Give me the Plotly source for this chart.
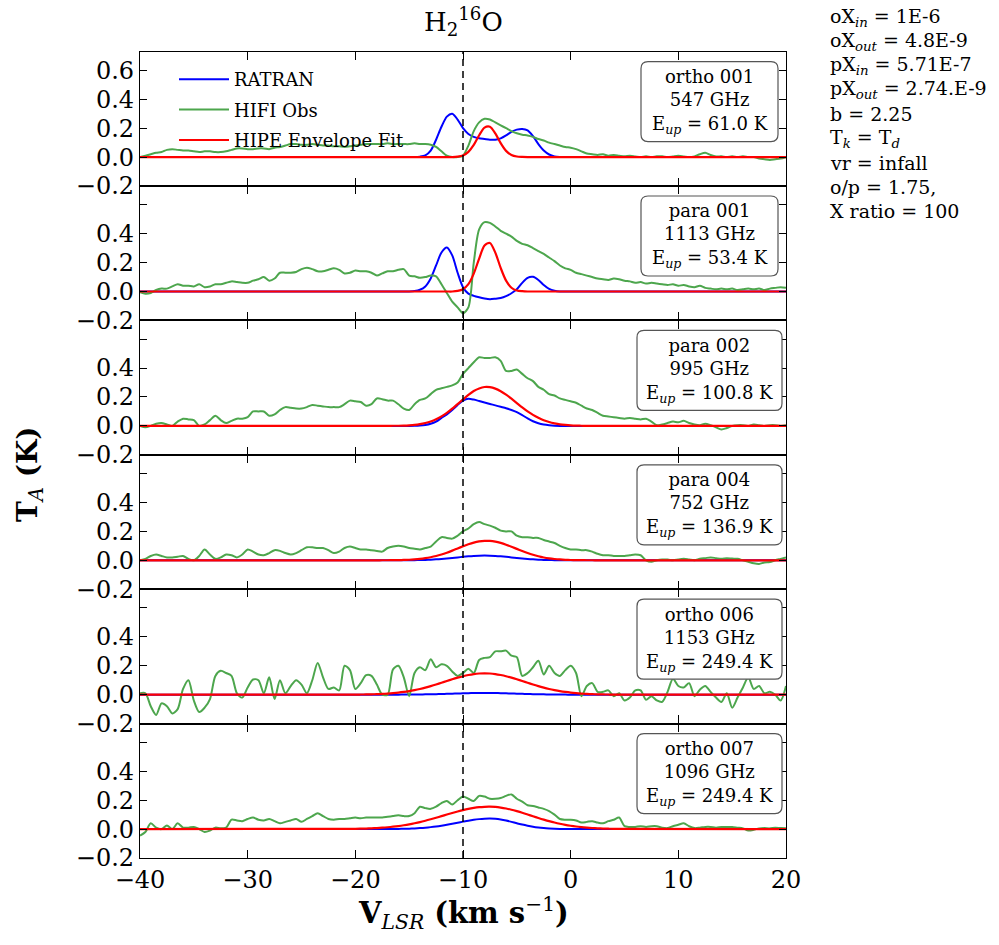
import numpy as np
import plotly.graph_objects as go

# ---------------------------------------------------------------- data
# velocity channels (km/s)
VEL_OBS = np.round(np.arange(-40.0, 20.001, 0.5), 2)                      # 121 channels
VEL_MODEL = np.concatenate([[-40.0], np.round(np.arange(-20.0, 4.001, 0.5), 2), [20.0]])  # 51 points

LINE_NAMES = ["ortho 001", "para 001", "para 002", "para 004", "ortho 006", "ortho 007"]
LINE_FREQS = ["547 GHz", "1113 GHz", "995 GHz", "752 GHz", "1153 GHz", "1096 GHz"]
LINE_EUP = ["61.0", "53.4", "100.8", "136.9", "249.4", "249.4"]

# HIFI observed spectra, T_A (K)
HIFI_O001 = [
    0.00, 0.01, 0.02, 0.03, 0.035, 0.05, 0.055, 0.05, 0.045, 0.045,
    0.04, 0.035, 0.04, 0.04, 0.035, 0.035, 0.04, 0.05, 0.06, 0.06,
    0.055, 0.055, 0.06, 0.06, 0.055, 0.065, 0.07, 0.08, 0.09, 0.09,
    0.085, 0.085, 0.09, 0.085, 0.08, 0.08, 0.075, 0.075, 0.07, 0.075,
    0.08, 0.085, 0.09, 0.09, 0.09, 0.09, 0.095, 0.09, 0.09, 0.09,
    0.09, 0.095, 0.09, 0.09, 0.085, 0.07, 0.04, 0.01, 0.0, 0.0,
    0.01, 0.08, 0.18, 0.24, 0.265, 0.26, 0.24, 0.22, 0.2, 0.18,
    0.165, 0.155, 0.15, 0.14, 0.125, 0.115, 0.1, 0.09, 0.08, 0.07,
    0.065, 0.055, 0.04, 0.025, 0.02, 0.015, 0.02, 0.01, 0.015, 0.01,
    0.005, 0.01, 0.005, 0.0, 0.005, 0.0, 0.005, 0.005, 0.0, 0.005,
    0.01, 0.005, 0.0, 0.005, 0.02, 0.03, 0.015, 0.005, 0.005, 0.0,
    0.005, 0.0, 0.005, 0.0, 0.0, -0.01, -0.015, -0.02, -0.015, -0.01,
    0.0]
HIFI_P001 = [
    -0.005, -0.015, -0.01, 0.01, 0.02, 0.02, 0.035, 0.05, 0.04, 0.04,
    0.035, 0.05, 0.03, 0.035, 0.05, 0.05, 0.06, 0.07, 0.065, 0.06,
    0.06, 0.075, 0.085, 0.1, 0.075, 0.09, 0.13, 0.13, 0.13, 0.135,
    0.155, 0.165, 0.155, 0.14, 0.14, 0.15, 0.16, 0.15, 0.125, 0.13,
    0.145, 0.14, 0.14, 0.13, 0.11, 0.125, 0.14, 0.14, 0.15, 0.155,
    0.11, 0.105, 0.095, 0.1, 0.11, 0.105, 0.05, -0.01, -0.07, -0.11,
    -0.15, -0.11, 0.2, 0.43, 0.48, 0.475, 0.45, 0.42, 0.4, 0.38,
    0.35, 0.33, 0.32, 0.3, 0.28, 0.26, 0.235, 0.21, 0.18, 0.16,
    0.15, 0.13, 0.12, 0.11, 0.1, 0.09, 0.085, 0.08, 0.09, 0.085,
    0.075, 0.07, 0.06, 0.065, 0.055, 0.06, 0.055, 0.05, 0.045, 0.05,
    0.04, 0.045, 0.035, 0.03, 0.04, 0.025, 0.02, 0.015, 0.02, 0.015,
    0.02, 0.01, 0.015, 0.02, 0.015, 0.02, 0.01, 0.02, 0.025, 0.03,
    0.025]
HIFI_P002 = [
    0.0, -0.01, 0.0, 0.015, 0.02, 0.01, 0.0, 0.03, 0.05, 0.045,
    0.04, 0.0, 0.01, 0.04, 0.07, 0.04, 0.02, 0.035, 0.05, 0.05,
    0.06, 0.1, 0.1, 0.1, 0.07, 0.08, 0.11, 0.13, 0.125, 0.12,
    0.12, 0.13, 0.145, 0.14, 0.135, 0.13, 0.13, 0.13, 0.15, 0.175,
    0.17, 0.165, 0.14, 0.15, 0.19, 0.185, 0.175, 0.175, 0.15, 0.12,
    0.11, 0.15, 0.18, 0.19, 0.22, 0.25, 0.26, 0.27, 0.28, 0.3,
    0.36, 0.4, 0.44, 0.475, 0.47, 0.47, 0.475, 0.45, 0.38, 0.38,
    0.39, 0.36, 0.33, 0.31, 0.27, 0.25, 0.22, 0.21, 0.19, 0.18,
    0.17, 0.16, 0.14, 0.12, 0.11, 0.09, 0.07, 0.065, 0.06, 0.055,
    0.05, 0.055, 0.05, 0.045, 0.05, 0.03, 0.005, 0.01, 0.02, 0.03,
    0.025, 0.035, 0.02, 0.01, 0.005, 0.015, 0.005, -0.01, -0.025, -0.015,
    0.0, 0.005, 0.005, 0.0, 0.01, 0.005, 0.0, 0.005, 0.005, 0.0,
    0.005]
HIFI_P004 = [
    0.0, 0.01, 0.03, 0.04, 0.03, 0.02, 0.02, 0.025, 0.03, 0.01,
    0.0, 0.03, 0.075, 0.04, 0.01, 0.02, 0.04, 0.035, 0.02, 0.04,
    0.075, 0.06, 0.04, 0.035, 0.05, 0.07, 0.065, 0.05, 0.04, 0.05,
    0.07, 0.09, 0.09, 0.085, 0.085, 0.07, 0.05, 0.06, 0.085, 0.095,
    0.085, 0.075, 0.075, 0.07, 0.065, 0.06, 0.085, 0.095, 0.1, 0.095,
    0.085, 0.08, 0.075, 0.085, 0.095, 0.13, 0.16, 0.155, 0.15, 0.17,
    0.2, 0.22, 0.25, 0.265, 0.25, 0.24, 0.225, 0.205, 0.2, 0.2,
    0.17, 0.16, 0.16, 0.155, 0.155, 0.14, 0.13, 0.12, 0.1, 0.085,
    0.075, 0.075, 0.07, 0.07, 0.06, 0.045, 0.035, 0.035, 0.03, 0.03,
    0.03, 0.035, 0.04, 0.035, 0.0, -0.01, 0.0, 0.005, 0.005, 0.0,
    0.005, 0.01, 0.005, 0.0, 0.01, 0.015, 0.02, 0.015, 0.01, 0.015,
    0.012, 0.01, 0.0, -0.01, -0.02, -0.025, -0.015, -0.012, 0.0, 0.01,
    0.02]
HIFI_O006 = [
    0.01, 0.01, -0.08, -0.14, -0.06, -0.08, -0.13, -0.1, 0.04, 0.1,
    -0.04, -0.12, -0.09, -0.03, 0.13, 0.165, 0.15, 0.13, 0.01, -0.02,
    0.05, 0.105, 0.1, 0.01, 0.12, -0.03, 0.1, 0.01, 0.06, 0.1,
    0.07, 0.01, 0.1, 0.22, 0.12, 0.04, 0.05, 0.03, 0.2, 0.17,
    0.04, 0.08, 0.135, 0.13, 0.07, 0.0, 0.0, 0.175, 0.2, 0.12,
    -0.01, 0.15, 0.19, 0.17, 0.245, 0.19, 0.21, 0.2, 0.16, 0.13,
    0.15, 0.18, 0.15, 0.24, 0.255, 0.26, 0.3, 0.3, 0.305, 0.27,
    0.26, 0.13, 0.15, 0.19, 0.235, 0.14, 0.2, 0.15, 0.13, 0.17,
    0.2, 0.15, -0.01, 0.06, 0.08, 0.02, 0.02, 0.03, -0.01, 0.01,
    -0.04, -0.02, 0.03, 0.03, -0.035, -0.01, -0.04, -0.05, 0.02, 0.11,
    0.06, 0.05, 0.08, -0.01, 0.035, 0.06, 0.02, -0.02, -0.05, 0.01,
    -0.09, -0.02, 0.05, 0.12, 0.04, 0.06, 0.01, 0.02, 0.0, -0.04,
    0.06]
HIFI_O007 = [
    -0.045, -0.02, 0.04, 0.01, 0.0, 0.025, 0.0, 0.04, 0.01, 0.01,
    0.015, 0.0, -0.02, -0.01, 0.01, 0.005, 0.01, 0.065, 0.06, 0.055,
    0.07, 0.08, 0.065, 0.06, 0.07, 0.055, 0.04, 0.05, 0.06, 0.07,
    0.05, 0.07, 0.09, 0.11, 0.09, 0.07, 0.065, 0.07, 0.07, 0.075,
    0.08, 0.075, 0.08, 0.08, 0.08, 0.08, 0.085, 0.09, 0.095, 0.09,
    0.09, 0.11, 0.155, 0.145, 0.14, 0.155, 0.18, 0.195, 0.17, 0.2,
    0.225, 0.21, 0.195, 0.23, 0.225, 0.21, 0.21, 0.215, 0.23, 0.24,
    0.21, 0.19, 0.165, 0.16, 0.15, 0.14, 0.125, 0.1, 0.07, 0.065,
    0.065, 0.06, 0.045, 0.05, 0.055, 0.045, 0.04, 0.055, 0.065, 0.08,
    0.02, 0.015, 0.015, 0.02, 0.015, 0.02, 0.02, 0.01, 0.007, 0.02,
    0.03, 0.04, 0.02, 0.007, 0.01, 0.015, 0.015, 0.01, 0.015, 0.015,
    0.015, 0.01, 0.005, -0.01, -0.005, 0.005, 0.007, 0.005, 0.01, 0.007,
    0.005]

# RATRAN model spectra, T_A (K), on VEL_MODEL
RATRAN_O001 = [0.0,
    0, 0, 0, 0, 0, 0, 0, 0, 0, 0,
    0, 0.0, 0.003, 0.012, 0.045, 0.12, 0.21, 0.28, 0.30, 0.26,
    0.2, 0.16, 0.14, 0.13, 0.125, 0.12, 0.12, 0.13, 0.15, 0.175,
    0.19, 0.195, 0.185, 0.145, 0.09, 0.045, 0.018, 0.005, 0.001, 0,
    0, 0, 0, 0, 0, 0, 0, 0, 0,
    0.0]
RATRAN_P001 = [0.0,
    0, 0, 0, 0, 0, 0, 0, 0, 0, 0,
    0, 0.003, 0.012, 0.035, 0.09, 0.18, 0.27, 0.305, 0.25, 0.13,
    0.03, -0.015, -0.03, -0.04, -0.048, -0.053, -0.05, -0.045, -0.032, -0.012,
    0.015, 0.06, 0.095, 0.102, 0.08, 0.045, 0.018, 0.005, 0, 0,
    0, 0, 0, 0, 0, 0, 0, 0, 0,
    0.0]
RATRAN_P002 = [0.0,
    0, 0, 0, 0, 0, 0, 0, 0, 0, 0,
    0, 0.001, 0.003, 0.007, 0.015, 0.03, 0.055, 0.08, 0.11, 0.145,
    0.175, 0.188, 0.182, 0.172, 0.162, 0.152, 0.142, 0.132, 0.122, 0.11,
    0.095, 0.075, 0.052, 0.032, 0.018, 0.009, 0.004, 0.001, 0, 0,
    0, 0, 0, 0, 0, 0, 0, 0, 0,
    0.0]
RATRAN_P004 = [0.0,
    0, 0, 0, 0, 0, 0, 0, 0, 0, 0,
    0.0006, 0.001, 0.0019, 0.0029, 0.0045, 0.0065, 0.0092, 0.0124, 0.016, 0.020,
    0.024, 0.0276, 0.0305, 0.0323, 0.033, 0.0323, 0.0305, 0.0276, 0.024, 0.020,
    0.016, 0.0124, 0.0092, 0.0065, 0.0045, 0.0029, 0.0019, 0.001, 0.0006, 0.0,
    0, 0, 0, 0, 0, 0, 0, 0, 0,
    0.0]
RATRAN_O006 = [0.0,
    0, 0, 0, 0, 0, 0, 0.0001, 0.0002, 0.0004, 0.0006,
    0.0008, 0.0012, 0.0016, 0.0023, 0.003, 0.0039, 0.0049, 0.0061, 0.0073, 0.0085,
    0.0096, 0.0106, 0.0113, 0.0118, 0.012, 0.0118, 0.0113, 0.0106, 0.0096, 0.0085,
    0.0073, 0.0061, 0.0049, 0.0039, 0.003, 0.0023, 0.0016, 0.0012, 0.0008, 0.0006,
    0.0004, 0.0002, 0.0001, 0, 0, 0, 0, 0, 0,
    0.0]
RATRAN_O007 = [0.0,
    0, 0, 0, 0, 0, 0, 0.0005, 0.0008, 0.0013, 0.0021,
    0.0032, 0.0048, 0.0070, 0.0099, 0.0136, 0.0182, 0.0237, 0.030, 0.037, 0.0443,
    0.0516, 0.0585, 0.0644, 0.069, 0.072, 0.073, 0.0713, 0.0664, 0.059, 0.05,
    0.0405, 0.0312, 0.023, 0.0161, 0.0108, 0.0069, 0.0042, 0.0024, 0.0013, 0.0007,
    0.0004, 0, 0, 0, 0, 0, 0, 0, 0,
    0.0]

# HIPE envelope fits, T_A (K), on VEL_MODEL
HIPE_O001 = [0.0,
    0, 0, 0, 0, 0, 0, 0, 0, 0, 0,
    0, 0, 0, 0, 0, 0, 0, 0, 0, 0.003,
    0.011, 0.036, 0.084, 0.151, 0.204, 0.210, 0.164, 0.097, 0.043, 0.015,
    0.004, 0.001, 0, 0, 0, 0, 0, 0, 0, 0,
    0, 0, 0, 0, 0, 0, 0, 0, 0,
    0.0]
HIPE_P001 = [0.0,
    0, 0, 0, 0, 0, 0, 0, 0, 0, 0,
    0, 0, 0, 0, 0, 0, 0, 0, 0, 0.004,
    0.016, 0.051, 0.124, 0.228, 0.318, 0.336, 0.269, 0.163, 0.075, 0.026,
    0.007, 0.002, 0, 0, 0, 0, 0, 0, 0, 0,
    0, 0, 0, 0, 0, 0, 0, 0, 0,
    0.0]
HIPE_P002 = [0.0,
    0, 0, 0, 0, 0, 0, 0, 0.001, 0.001, 0.002,
    0.004, 0.007, 0.012, 0.020, 0.031, 0.046, 0.066, 0.090, 0.119, 0.151,
    0.183, 0.214, 0.241, 0.259, 0.269, 0.268, 0.258, 0.240, 0.216, 0.188,
    0.158, 0.128, 0.100, 0.076, 0.056, 0.039, 0.027, 0.018, 0.011, 0.007,
    0.004, 0.002, 0.001, 0, 0, 0, 0, 0, 0,
    0.0]
HIPE_P004 = [0.0,
    0, 0, 0, 0, 0.0001, 0.0002, 0.0004, 0.0008, 0.0013, 0.0023,
    0.0038, 0.0062, 0.0096, 0.0145, 0.0212, 0.0296, 0.0402, 0.0528, 0.0669, 0.0819,
    0.0968, 0.1107, 0.1223, 0.1305, 0.1346, 0.1342, 0.1292, 0.1202, 0.1081, 0.0940,
    0.0789, 0.0640, 0.0501, 0.0379, 0.0278, 0.0196, 0.0134, 0.0089, 0.0057, 0.0035,
    0.0021, 0.0012, 0.0007, 0.0004, 0.0002, 0, 0, 0, 0,
    0.0]
HIPE_O006 = [0.0,
    0.0008, 0.0012, 0.0018, 0.0027, 0.0038, 0.0055, 0.0077, 0.0106, 0.0143, 0.019,
    0.0247, 0.0317, 0.0398, 0.0491, 0.0594, 0.0707, 0.0825, 0.0946, 0.1066, 0.1178,
    0.1279, 0.1363, 0.1427, 0.1467, 0.148, 0.1467, 0.1427, 0.1363, 0.1279, 0.1178,
    0.1066, 0.0946, 0.0825, 0.0707, 0.0594, 0.0491, 0.0398, 0.0317, 0.0247, 0.019,
    0.0143, 0.0106, 0.0077, 0.0055, 0.0038, 0.0027, 0.0018, 0.0012, 0.0008,
    0.0]
HIPE_O007 = [0.0,
    0.002, 0.0028, 0.0039, 0.0053, 0.0072, 0.0096, 0.0127, 0.0165, 0.021, 0.0265,
    0.0329, 0.0403, 0.0485, 0.0578, 0.0679, 0.0786, 0.0896, 0.1007, 0.1117, 0.1222,
    0.1317, 0.140, 0.1466, 0.1515, 0.1543, 0.155, 0.1532, 0.149, 0.1425, 0.134,
    0.124, 0.113, 0.101, 0.0891, 0.0773, 0.0659, 0.0553, 0.0456, 0.037, 0.0295,
    0.0232, 0.0179, 0.0136, 0.0102, 0.0075, 0.0054, 0.0038, 0.0027, 0.0018,
    0.0]

X_TICKS = [-40, -30, -20, -10, 0, 10, 20]
Y_TICKS = [-0.2, 0.0, 0.2, 0.4, 0.6]
Y_TICK_TEXT = ["\u22120.2", "0.0", "0.2", "0.4", "0.6"]
SOURCE_VLSR = -10.0

PARAM_LINES = [
    "oX<sub><i>in</i></sub> = 1E-6",
    "oX<sub><i>out</i></sub> = 4.8E-9",
    "pX<sub><i>in</i></sub> = 5.71E-7",
    "pX<sub><i>out</i></sub> = 2.74.E-9",
    "b = 2.25",
    "T<sub><i>k</i></sub> = T<sub><i>d</i></sub>",
    "vr = infall",
    "o/p = 1.75,",
    "X ratio = 100",
]

OBS = [HIFI_O001, HIFI_P001, HIFI_P002, HIFI_P004, HIFI_O006, HIFI_O007]
RATRAN = [RATRAN_O001, RATRAN_P001, RATRAN_P002, RATRAN_P004, RATRAN_O006, RATRAN_O007]
HIPE = [HIPE_O001, HIPE_P001, HIPE_P002, HIPE_P004, HIPE_O006, HIPE_O007]

# ---------------------------------------------------------------- layout helpers
W, H = 999, 945
FONT = "DejaVu Serif"
PLOT_L, PLOT_R = 140, 786
PLOT_T, PANEL_H = 51.6, 134.4
N = len(LINE_NAMES)


def fx(px):
    return px / W


def fy(py):
    return 1 - py / H


def rounded_box(x0, y0, x1, y1, r=7):
    """SVG path (paper coords) of a rounded rectangle given in pixels."""
    X = lambda p: f"{fx(p):.5f}"
    Y = lambda p: f"{fy(p):.5f}"
    return (f"M{X(x0 + r)},{Y(y0)} L{X(x1 - r)},{Y(y0)} Q{X(x1)},{Y(y0)} {X(x1)},{Y(y0 + r)} "
            f"L{X(x1)},{Y(y1 - r)} Q{X(x1)},{Y(y1)} {X(x1 - r)},{Y(y1)} "
            f"L{X(x0 + r)},{Y(y1)} Q{X(x0)},{Y(y1)} {X(x0)},{Y(y1 - r)} "
            f"L{X(x0)},{Y(y0 + r)} Q{X(x0)},{Y(y0)} {X(x0 + r)},{Y(y0)} Z")


BLUE, GREEN, RED = "#0000ff", "#4da64d", "#ff0000"

fig = go.Figure()
layout = dict(
    width=W, height=H,
    margin=dict(l=0, r=0, t=0, b=0, autoexpand=False),
    paper_bgcolor="white", plot_bgcolor="white",
    font=dict(family=FONT, size=18, color="black"),
    showlegend=True,
    legend=dict(x=fx(174), y=fy(61), xanchor="left", yanchor="top",
                bgcolor="rgba(0,0,0,0)", font=dict(family=FONT, size=18),
                tracegroupgap=4, itemwidth=50),
)

shapes, annotations = [], []

for i in range(N):
    k = "" if i == 0 else str(i + 1)
    top = PLOT_T + i * PANEL_H
    bot = top + PANEL_H
    xa, ya = "x" + k, "y" + k

    fig.add_trace(go.Scatter(x=VEL_MODEL, y=RATRAN[i], mode="lines", name="RATRAN",
                             line=dict(color=BLUE, width=2, shape="spline", smoothing=0.8),
                             xaxis=xa, yaxis=ya, legendgroup="a", showlegend=(i == 0)))
    fig.add_trace(go.Scatter(x=VEL_OBS, y=OBS[i], mode="lines", name="HIFI Obs",
                             line=dict(color=GREEN, width=2, shape="spline", smoothing=0.8),
                             xaxis=xa, yaxis=ya, legendgroup="b", showlegend=(i == 0)))
    fig.add_trace(go.Scatter(x=VEL_MODEL, y=HIPE[i], mode="lines", name="HIPE Envelope Fit",
                             line=dict(color=RED, width=2.2, shape="spline", smoothing=0.8),
                             xaxis=xa, yaxis=ya, legendgroup="c", showlegend=(i == 0)))

    layout["xaxis" + k] = dict(
        domain=[fx(PLOT_L), fx(PLOT_R)], range=[-40, 20], anchor=ya, automargin=False,
        tickmode="array", tickvals=X_TICKS,
        ticks="inside", ticklen=8, tickwidth=1, tickcolor="black",
        mirror="ticks", showline=True, linecolor="black", linewidth=1.3,
        showgrid=False, zeroline=False,
        showticklabels=(i == N - 1),
        tickfont=dict(family=FONT, size=24, color="black"),
    )
    if i > 0:
        layout["xaxis" + k]["matches"] = "x"
    layout["yaxis" + k] = dict(
        domain=[fy(bot), fy(top)], range=[-0.2, 0.73], anchor=xa, automargin=False,
        tickmode="array", tickvals=Y_TICKS,
        ticktext=Y_TICK_TEXT if i == 0 else Y_TICK_TEXT[:-1] + [""],
        ticks="inside", ticklen=7, tickwidth=1, tickcolor="black",
        mirror="ticks", showline=True, linecolor="black", linewidth=1.3,
        showgrid=False, zeroline=False,
        tickfont=dict(family=FONT, size=24, color="black"),
    )

    # transition label box
    bx0 = 641 if i < 2 else 637
    bx1 = 778 if i < 2 else 782
    by0, by1 = top + 10, top + 90
    shapes.append(dict(type="path", xref="paper", yref="paper",
                       path=rounded_box(bx0, by0, bx1, by1),
                       line=dict(color="#555555", width=1.2), fillcolor="white", layer="above"))
    annotations.append(dict(
        x=fx((bx0 + bx1) / 2), y=fy((by0 + by1) / 2), xref="paper", yref="paper",
        xanchor="center", yanchor="middle", align="center", showarrow=False,
        text=f"{LINE_NAMES[i]}<br>{LINE_FREQS[i]}<br>E<sub><i>up</i></sub> = {LINE_EUP[i]} K",
        font=dict(family=FONT, size=18, color="black")))

# source velocity marker through all panels
shapes.append(dict(type="line", xref="x", yref="paper", x0=SOURCE_VLSR, x1=SOURCE_VLSR,
                   y0=fy(PLOT_T + N * PANEL_H), y1=fy(PLOT_T),
                   line=dict(color="black", width=1.5, dash="7px,5px"), layer="above"))

# titles
annotations.append(dict(x=fx((PLOT_L + PLOT_R) / 2), y=fy(21), xref="paper", yref="paper",
                        text="H<sub>2</sub><sup>16</sup>O", showarrow=False,
                        xanchor="center", yanchor="middle",
                        font=dict(family=FONT, size=26, color="black")))
annotations.append(dict(x=fx(29), y=fy(474), xref="paper", yref="paper",
                        text="<b>T</b><sub><i>A</i></sub><b> (K)</b>", showarrow=False,
                        textangle=-90, xanchor="center", yanchor="middle",
                        font=dict(family=FONT, size=28, color="black")))
annotations.append(dict(x=fx((PLOT_L + PLOT_R) / 2), y=fy(913), xref="paper", yref="paper",
                        text="<b>V</b><sub><i>LSR</i></sub><b> (km s</b><sup>\u22121</sup><b>)</b>",
                        showarrow=False, xanchor="center", yanchor="middle",
                        font=dict(family=FONT, size=29, color="black")))

# model parameters
for j, line in enumerate(PARAM_LINES):
    annotations.append(dict(x=fx(828), y=fy(17 + j * 24.3), xref="paper", yref="paper",
                            text=line, showarrow=False, xanchor="left", yanchor="middle",
                            font=dict(family=FONT, size=19, color="black")))

layout["shapes"] = shapes
layout["annotations"] = annotations
fig.update_layout(**layout)

fig.write_html("out.html")
